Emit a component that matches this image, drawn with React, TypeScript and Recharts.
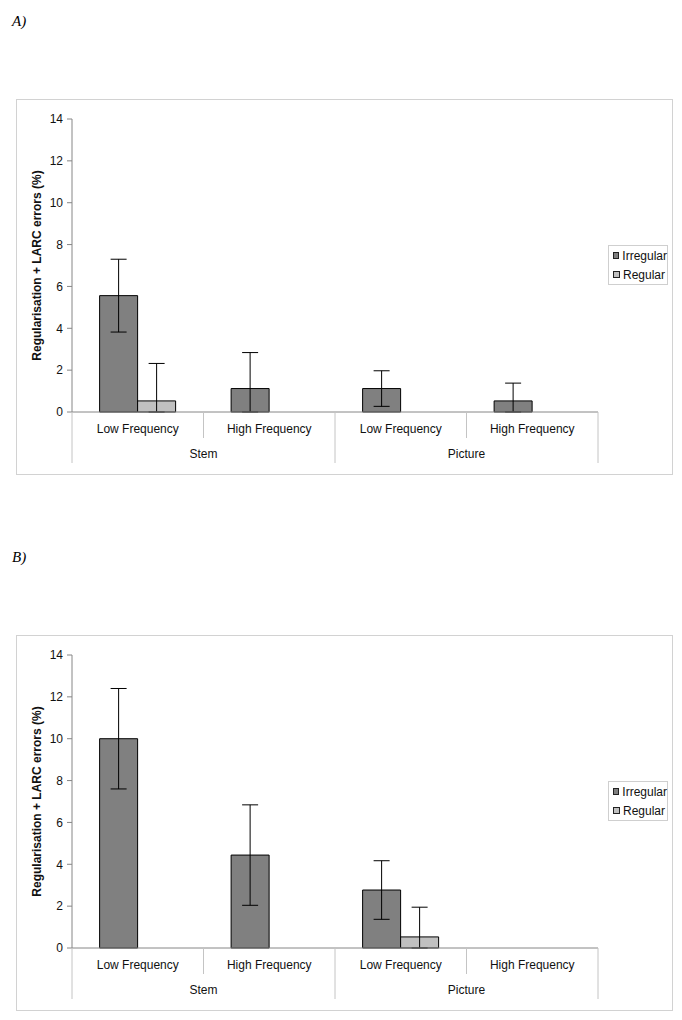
import { BarChart, Bar, XAxis, YAxis, Legend, ErrorBar, Label } from 'recharts';

// categories along the x axis and the group each one belongs to
const categories = ['Low Frequency', 'High Frequency', 'Low Frequency', 'High Frequency'];
const groups = ['Stem', 'Stem', 'Picture', 'Picture'];
const yTicks = [0, 2, 4, 6, 8, 10, 12, 14];

// panel A values (%) and error sizes
const irregularA = [5.56, 1.12, 1.12, 0.53];
const irregularErrA = [1.74, 1.72, 0.85, 0.85];
const regularA = [0.53, 0, 0, 0];
const regularErrA = [1.79, 0, 0, 0];

// panel B values (%) and error sizes
const irregularB = [10.0, 4.44, 2.77, 0];
const irregularErrB = [2.4, 2.4, 1.4, 0];
const regularB = [0, 0, 0.53, 0];
const regularErrB = [0, 0, 1.42, 0];

const SERIES = {
    irregular: { name: 'Irregular', color: '#808080' },
    regular: { name: 'Regular', color: '#c0c0c0' },
};

const AXIS_GREY = '#868686';
const SEP_GREY = '#c4c4c4';
const FONT = '"Liberation Sans", Arial, sans-serif';

// error bars are cut off at the x axis, like the original
const errRange = (v: number, e: number) => (v > 0 && e > 0 ? [Math.min(v, e), e] : null);

const buildRows = (irr: number[], irrErr: number[], reg: number[], regErr: number[]) =>
    categories.map((cat, i) => ({
        key: `${groups[i]}-${cat}`,
        category: cat,
        group: groups[i],
        irregular: irr[i],
        regular: reg[i],
        irrErr: errRange(irr[i], irrErr[i]),
        regErr: errRange(reg[i], regErr[i]),
    }));

const CategoryTick = (props: any) => {
    const { x, y, index, payload, width, visibleTicksCount } = props;
    const count = visibleTicksCount || categories.length;
    const band = (width || 0) / count;
    const left = x - band / 2;
    const groupStart = index === 0 || groups[index] !== groups[index - 1];
    const groupEnd = index === count - 1 || groups[index] !== groups[index + 1];
    let groupSize = 1;
    for (let j = index - 1; j >= 0 && groups[j] === groups[index]; j--) groupSize++;
    const groupCenter = x + band / 2 - (groupSize * band) / 2;

    return (
        <g>
            <line x1={left} x2={left} y1={y} y2={y + (groupStart ? 51 : 26)} stroke={SEP_GREY} />
            {index === count - 1 && (
                <line x1={x + band / 2} x2={x + band / 2} y1={y} y2={y + 51} stroke={SEP_GREY} />
            )}
            <text x={x} y={y + 21} textAnchor="middle" fontSize={12} fill="#111" fontFamily={FONT}>
                {categories[index] ?? payload.value}
            </text>
            {groupEnd && (
                <text x={groupCenter} y={y + 46} textAnchor="middle" fontSize={12} fill="#111" fontFamily={FONT}>
                    {groups[index]}
                </text>
            )}
        </g>
    );
};

const LegendBox = () => (
    <div
        style={{
            border: '1px solid #cfcfcf',
            padding: '0 0 0 4px',
            fontFamily: FONT,
            fontSize: 12,
            color: '#111',
            background: '#fff',
        }}
    >
        {Object.entries(SERIES).map(([key, { name, color }]) => (
            <div key={key} style={{ display: 'flex', alignItems: 'center', height: 19 }}>
                <span
                    style={{
                        width: 5,
                        height: 5,
                        border: '1px solid #222',
                        background: color,
                        marginRight: 3,
                    }}
                />
                <span>{name}</span>
            </div>
        ))}
    </div>
);

const Panel = ({ rows, top, title }: { rows: any[]; top: number; title: string }) => (
    <>
        <div
            style={{
                position: 'absolute',
                left: 12,
                top: top - 85,
                fontFamily: '"Liberation Serif", "Times New Roman", serif',
                fontStyle: 'italic',
                fontSize: 15,
                lineHeight: '15px',
            }}
        >
            {title}
        </div>
        <div
            style={{
                position: 'absolute',
                left: 16,
                top,
                width: 655,
                height: 374,
                border: '1px solid #d2d2d2',
                background: '#fff',
            }}
        >
            <BarChart
                width={655}
                height={374}
                data={rows}
                margin={{ top: 19, right: 74, bottom: 0, left: 0 }}
                barCategoryGap="21%"
                barGap={0}
            >
                <XAxis
                    dataKey="key"
                    height={62}
                    axisLine={{ stroke: AXIS_GREY }}
                    tickLine={false}
                    tickSize={0}
                    tickMargin={0}
                    interval={0}
                    tick={<CategoryTick />}
                />
                <XAxis
                    xAxisId="top"
                    dataKey="key"
                    orientation="top"
                    height={0}
                    tick={false}
                    tickLine={false}
                    axisLine={{ stroke: AXIS_GREY }}
                />
                <YAxis
                    width={55}
                    domain={[0, 14]}
                    ticks={yTicks}
                    interval={0}
                    axisLine={{ stroke: AXIS_GREY }}
                    tickLine={{ stroke: AXIS_GREY }}
                    tickSize={5}
                    tickMargin={4}
                    tick={{ fill: '#111', fontSize: 12, fontFamily: FONT }}
                >
                    <Label
                        content={({ viewBox }: any) => {
                            const cx = viewBox.x + 20;
                            const cy = viewBox.y + viewBox.height / 2;
                            return (
                                <text
                                    x={cx}
                                    y={cy}
                                    transform={`rotate(-90 ${cx} ${cy})`}
                                    textAnchor="middle"
                                    dominantBaseline="central"
                                    fontSize={12}
                                    fontWeight="bold"
                                    fontFamily={FONT}
                                    fill="#111"
                                >
                                    Regularisation + LARC errors (%)
                                </text>
                            );
                        }}
                    />
                </YAxis>
                <YAxis
                    yAxisId="right"
                    orientation="right"
                    width={0}
                    domain={[0, 14]}
                    tick={false}
                    tickLine={false}
                    axisLine={{ stroke: AXIS_GREY }}
                />
                <Legend
                    layout="vertical"
                    align="center"
                    verticalAlign="middle"
                    content={<LegendBox />}
                    wrapperStyle={{ left: 591, top: 145, width: 60, height: 'auto' }}
                />
                <Bar
                    dataKey="irregular"
                    name={SERIES.irregular.name}
                    fill={SERIES.irregular.color}
                    stroke="#000"
                    strokeWidth={1}
                    isAnimationActive={false}
                >
                    <ErrorBar dataKey="irrErr" width={8} stroke="#000" strokeWidth={1} direction="y" />
                </Bar>
                <Bar
                    dataKey="regular"
                    name={SERIES.regular.name}
                    fill={SERIES.regular.color}
                    stroke="#000"
                    strokeWidth={1}
                    isAnimationActive={false}
                >
                    <ErrorBar dataKey="regErr" width={8} stroke="#000" strokeWidth={1} direction="y" />
                </Bar>
            </BarChart>
        </div>
    </>
);

export default function App() {
    const rowsA = buildRows(irregularA, irregularErrA, regularA, regularErrA);
    const rowsB = buildRows(irregularB, irregularErrB, regularB, regularErrB);

    return (
        <div style={{ position: 'relative', width: 682, height: 1020, background: '#fff' }}>
            <style>{'body { margin: 0; }'}</style>
            <Panel rows={rowsA} top={99} title="A)" />
            <Panel rows={rowsB} top={635} title="B)" />
        </div>
    );
}
